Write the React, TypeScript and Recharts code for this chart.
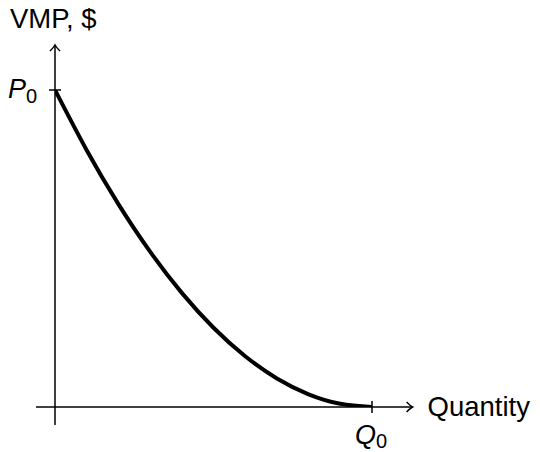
import React from "react";
import { LineChart, Line, XAxis, YAxis, ReferenceLine, ReferenceDot } from "recharts";

// Data
const quantity = [0, 1, 2, 3, 4, 5, 6, 7, 8, 9, 10];
const vmp = [100, 81, 64, 49, 36, 25, 16, 9, 4, 1, 0];
const xTicks = [10];
const yTicks = [100];
const xTickLabel = { main: "Q", sub: "0" };
const yTickLabel = { main: "P", sub: "0" };
const xTitle = "Quantity";
const yTitle = "VMP, $";

const data = quantity.map((q, i) => ({ q, v: vmp[i] }));

const FONT = "'Liberation Sans', Arial, Helvetica, sans-serif";
const INK = "#000";
const AXIS_W = 1.5;

const XTick = (props: any) => {
  const { x, y } = props;
  return (
    <text x={x - 17} y={y + 37} fontFamily={FONT} fontSize={27} fill={INK}>
      <tspan fontStyle="italic">{xTickLabel.main}</tspan>
      <tspan fontSize={20} dy={4}>{xTickLabel.sub}</tspan>
    </text>
  );
};

const YTick = (props: any) => {
  const { x, y } = props;
  return (
    <text x={x - 47} y={y + 8} fontFamily={FONT} fontSize={27} fill={INK}>
      <tspan fontStyle="italic">{yTickLabel.main}</tspan>
      <tspan fontSize={20} dy={5}>{yTickLabel.sub}</tspan>
    </text>
  );
};

const XTitle = (props: any) => {
  const { cx, cy } = props;
  return (
    <text x={cx + 15} y={cy + 9} fontFamily={FONT} fontSize={27.5} fill={INK}>
      {xTitle}
    </text>
  );
};

const YTitle = (props: any) => {
  const { cx, cy } = props;
  return (
    <text x={cx - 45} y={cy - 17} fontFamily={FONT} fontSize={27.5} fill={INK}>
      {yTitle}
    </text>
  );
};

const ArrowRight = (props: any) => {
  const { cx, cy } = props;
  return (
    <g>
      <path
        d={`M ${cx - 6} ${cy - 5} Q ${cx - 2} ${cy - 1} ${cx} ${cy} Q ${cx - 2} ${cy + 1} ${cx - 6} ${cy + 5}`}
        fill="none"
        stroke={INK}
        strokeWidth={AXIS_W}
      />
      <XTitle cx={cx} cy={cy} />
    </g>
  );
};

const ArrowUp = (props: any) => {
  const { cx, cy } = props;
  return (
    <g>
      <path
        d={`M ${cx - 5} ${cy + 6} Q ${cx - 1} ${cy + 2} ${cx} ${cy} Q ${cx + 1} ${cy + 2} ${cx + 5} ${cy + 6}`}
        fill="none"
        stroke={INK}
        strokeWidth={AXIS_W}
      />
      <YTitle cx={cx} cy={cy} />
    </g>
  );
};

export default function App() {
  return (
    <div style={{ width: 540, height: 452, background: "#fff" }}>
      <style>{`body{margin:0;}`}</style>
      <LineChart
        width={540}
        height={452}
        data={data}
        margin={{ top: 90, right: 168, bottom: 0, left: 0 }}
      >
        <XAxis
          type="number"
          dataKey="q"
          domain={[0, 10]}
          ticks={xTicks}
          interval={0}
          height={45}
          axisLine={false}
          tickLine={false}
          tickSize={0}
          tickMargin={0}
          tick={<XTick />}
          allowDataOverflow
        />
        <YAxis
          type="number"
          domain={[0, 100]}
          ticks={yTicks}
          interval={0}
          width={55}
          axisLine={false}
          tickLine={false}
          tickSize={0}
          tickMargin={0}
          tick={<YTick />}
          allowDataOverflow
        />
        {/* axes */}
        <ReferenceLine
          segment={[{ x: -0.6, y: 0 }, { x: 11.28, y: 0 }]}
          stroke={INK}
          strokeWidth={AXIS_W}
          ifOverflow="visible"
        />
        <ReferenceLine
          segment={[{ x: 0, y: -5.7 }, { x: 0, y: 114.2 }]}
          stroke={INK}
          strokeWidth={AXIS_W}
          ifOverflow="visible"
        />
        {/* tick marks */}
        <ReferenceLine
          segment={[{ x: -0.19, y: 100 }, { x: 0.19, y: 100 }]}
          stroke={INK}
          strokeWidth={AXIS_W}
          ifOverflow="visible"
        />
        <ReferenceLine
          segment={[{ x: 10, y: -1.9 }, { x: 10, y: 1.9 }]}
          stroke={INK}
          strokeWidth={AXIS_W}
          ifOverflow="visible"
        />
        <ReferenceDot x={11.28} y={0} ifOverflow="visible" shape={<ArrowRight />} />
        <ReferenceDot x={0} y={114.2} ifOverflow="visible" shape={<ArrowUp />} />
        <Line
          type="natural"
          dataKey="v"
          stroke={INK}
          strokeWidth={4}
          dot={false}
          activeDot={false}
          isAnimationActive={false}
        />
      </LineChart>
    </div>
  );
}
